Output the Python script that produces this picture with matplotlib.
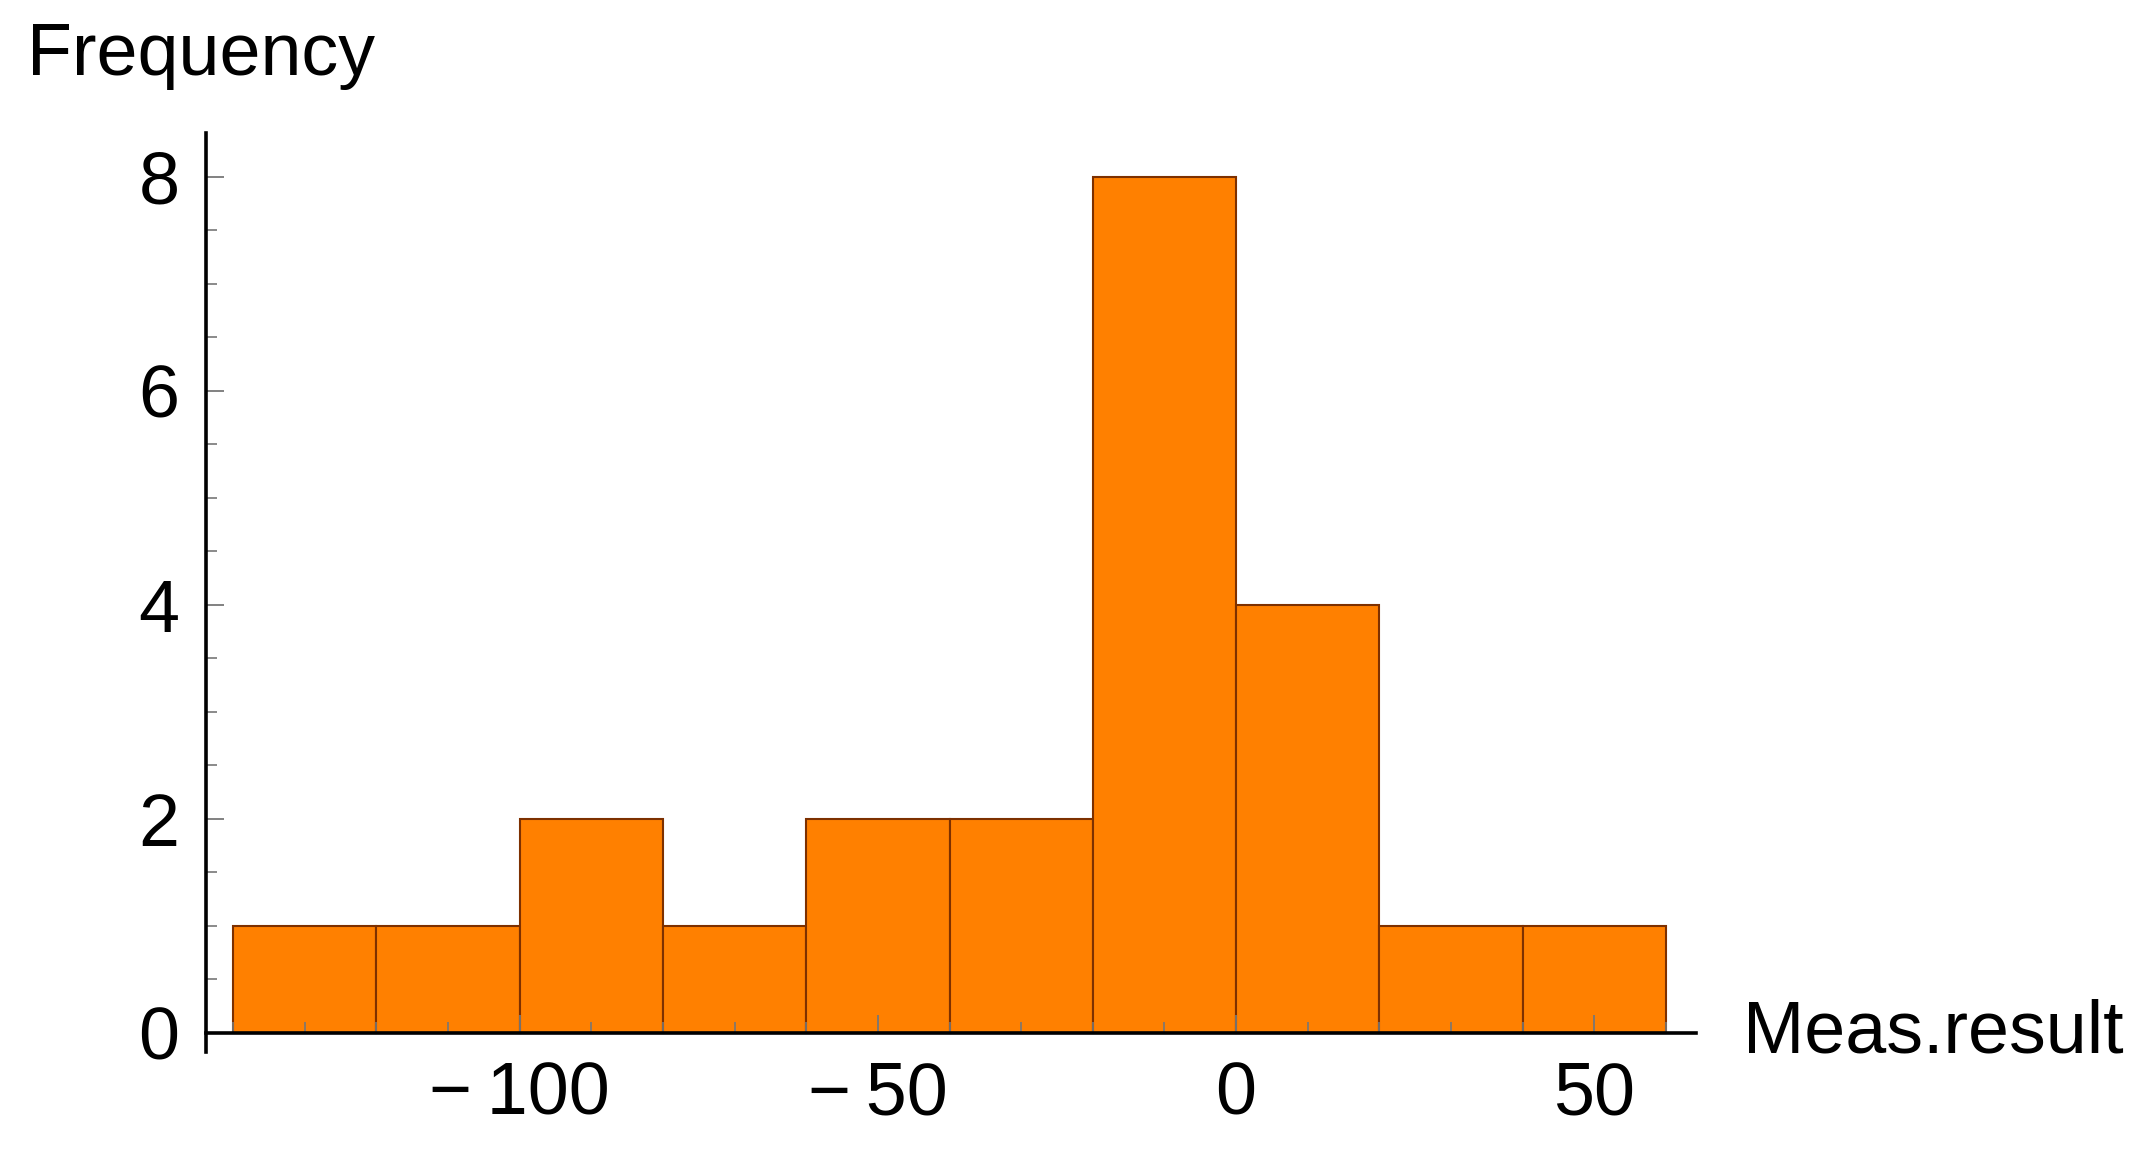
import matplotlib
matplotlib.use("Agg")
import matplotlib.pyplot as plt
from matplotlib.ticker import MultipleLocator, FuncFormatter

bin_edges = [-140, -120, -100, -80, -60, -40, -20, 0, 20, 40, 60]
counts = [1, 1, 2, 1, 2, 2, 8, 4, 1, 1]
x_ticks = [-100, -50, 0, 50]
y_ticks = [0, 2, 4, 6, 8]
x_label = "Meas.result"
y_label = "Frequency"

plt.rcParams['font.family'] = ['Liberation Sans', 'DejaVu Sans']

W, H = 2148, 1153
fig = plt.figure(figsize=(W / 100, H / 100), dpi=100)
ax = fig.add_axes([206 / W, (H - 1052) / H, (1696 - 206) / W, (1052 - 133) / H])

lefts = bin_edges[:-1]
widths = [bin_edges[i + 1] - bin_edges[i] for i in range(len(counts))]
ax.bar(lefts, counts, width=widths, align='edge', color='#FF8000',
       edgecolor='#7d3000', linewidth=1.5, zorder=1)

ax.set_xlim(-143.8, 64.2)
ax.set_ylim(-0.18, 8.41)

for s in ['top', 'right']:
    ax.spines[s].set_visible(False)
ax.spines['bottom'].set_position(('data', 0))
for s in ['left', 'bottom']:
    ax.spines[s].set_linewidth(2.6)
    ax.spines[s].set_color('black')
    ax.spines[s].set_zorder(3)

ax.set_xticks(x_ticks)
ax.set_yticks(y_ticks)
ax.xaxis.set_minor_locator(MultipleLocator(10))
ax.yaxis.set_minor_locator(MultipleLocator(0.5))
ax.xaxis.set_major_formatter(FuncFormatter(lambda v, p: f"{int(v)}".replace('-', '\u2212\u2009')))

ax.tick_params(axis='both', which='major', direction='in', length=13, width=1.3,
               color='#777777', labelsize=53, labelcolor='black')
ax.tick_params(axis='both', which='minor', direction='in', length=8, width=1.2,
               color='#777777')
ax.tick_params(axis='y', which='major', pad=19)
ax.tick_params(axis='x', which='major', pad=20)
ax.set_axisbelow(False)

ax.annotate(x_label, xy=(1, 0), xycoords=('axes fraction', 'data'),
            xytext=(47, 0), textcoords='offset pixels', va='center', ha='left',
            fontsize=53, annotation_clip=False)
fig.text(27 / W, 1 - 55 / H, y_label, va='center', ha='left', fontsize=53)

fig.savefig('out.png', dpi=100)
